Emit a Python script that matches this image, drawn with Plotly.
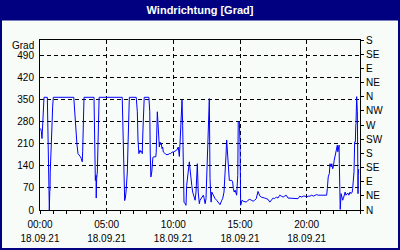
import pandas as pd
import plotly.graph_objects as go

DATE = "2021-09-18"

times = [
    "00:03", "00:06", "00:09", "00:12", "00:15", "00:18", "00:33", "00:36", "00:37", "00:39",
    "00:40", "00:42", "00:44", "00:45", "00:46", "00:48", "00:51", "00:54", "00:57", "01:00",
    "02:32", "02:36", "02:39", "02:43", "02:46", "02:51", "02:55", "02:59", "03:01", "03:06",
    "03:09", "03:10", "03:12", "03:15", "03:18", "04:03", "04:06", "04:09", "04:12", "04:13",
    "04:15", "04:18", "04:21", "04:24", "04:26", "06:10", "06:13", "06:18", "06:21", "06:24",
    "06:27", "06:30", "06:33", "06:36", "06:39", "06:42", "07:13", "07:18", "07:21", "07:22",
    "07:25", "07:30", "07:33", "07:38", "07:40", "07:43", "07:47", "07:49", "08:10", "08:14",
    "08:16", "08:19", "08:23", "08:25", "08:28", "08:33", "08:41", "08:43", "08:45", "08:48",
    "08:51", "08:54", "08:57", "09:00", "09:03", "09:06", "09:09", "09:12", "09:15", "09:21",
    "09:27", "09:36", "09:42", "09:48", "09:54", "10:00", "10:15", "10:22", "10:27", "10:30",
    "10:35", "10:39", "10:42", "10:45", "10:48", "10:53", "10:57", "11:00", "11:07", "11:12",
    "11:15", "11:18", "11:23", "11:27", "11:33", "11:38", "11:42", "11:45", "11:48", "11:52",
    "11:57", "12:00", "12:08", "12:15", "12:19", "12:23", "12:27", "12:30", "12:35", "12:39",
    "12:42", "12:45", "12:50", "12:53", "12:57", "13:03", "13:08", "13:15", "13:22", "13:30",
    "13:38", "13:42", "13:48", "13:53", "13:57", "14:00", "14:03", "14:07", "14:12", "14:23",
    "14:27", "14:30", "14:34", "14:38", "14:45", "14:50", "14:52", "14:57", "15:00", "15:03",
    "15:06", "15:09", "15:14", "15:21", "15:28", "15:36", "15:44", "15:51", "15:59", "16:06",
    "16:13", "16:21", "16:29", "16:36", "16:44", "16:51", "16:58", "17:06", "17:14", "17:21",
    "17:29", "17:36", "17:43", "17:51", "17:59", "18:06", "18:14", "18:21", "18:28", "18:36",
    "18:44", "18:51", "18:59", "19:06", "19:13", "19:21", "19:29", "19:38", "19:45", "19:53",
    "20:00", "20:07", "20:15", "20:23", "20:30", "20:38", "20:45", "20:52", "21:00", "21:08",
    "21:15", "21:23", "21:30", "21:33", "21:37", "21:42", "21:45", "21:50", "21:53", "21:57",
    "22:00", "22:04", "22:08", "22:12", "22:15", "22:18", "22:20", "22:22", "22:26", "22:27",
    "22:29", "22:30", "22:31", "22:35", "22:38", "22:42", "22:45", "22:48", "22:53", "22:57",
    "23:00", "23:05", "23:10", "23:15", "23:20", "23:23", "23:25", "23:27", "23:30", "23:33",
    "23:36", "23:39", "23:41", "23:42", "23:45", "23:48", "23:50", "23:51", "23:52", "23:54",
]

direction = [
    259, 250, 227, 270, 322, 358, 358, 270, 180, 89,
    57, 0, 60, 62, 120, 179, 185, 270, 330, 358,
    358, 312, 275, 237, 211, 179, 176, 174, 170, 163,
    157, 153, 185, 270, 358, 358, 216, 94, 110, 38,
    100, 121, 216, 312, 358, 358, 275, 110, 30, 38,
    57, 78, 121, 206, 275, 358, 358, 312, 222, 184,
    179, 190, 184, 186, 179, 248, 312, 358, 358, 312,
    184, 105, 121, 152, 167, 169, 169, 184, 269, 312,
    275, 222, 200, 216, 208, 211, 195, 200, 184, 181,
    176, 176, 179, 179, 184, 184, 190, 200, 170, 211,
    296, 349, 269, 110, 25, 20, 15, 78, 121, 153,
    131, 100, 78, 57, 41, 31, 57, 100, 147, 57,
    20, 31, 41, 47, 36, 20, 36, 100, 275, 354,
    354, 100, 25, 57, 52, 41, 36, 31, 25, 17,
    31, 36, 57, 110, 174, 222, 184, 131, 94, 94,
    89, 68, 57, 63, 47, 110, 280, 280, 216, 15,
    27, 31, 28, 26, 25, 31, 34, 31, 28, 31,
    36, 59, 45, 41, 38, 38, 36, 34, 25, 31,
    38, 36, 41, 38, 47, 44, 41, 44, 47, 38,
    38, 38, 38, 38, 38, 36, 44, 41, 44, 44,
    41, 44, 44, 47, 44, 47, 49, 47, 47, 47,
    47, 47, 47, 68, 105, 116, 147, 137, 147, 131,
    137, 158, 174, 190, 190, 206, 185, 200, 206, 147,
    57, 25, 2, 52, 38, 31, 36, 47, 57, 47,
    49, 54, 47, 57, 52, 57, 57, 68, 110, 121,
    216, 216, 269, 275, 360, 312, 150, 52, 110, 130,
]

left_ticks = [0, 70, 140, 210, 280, 350, 420, 490]
right_ticks = [0, 45, 90, 135, 180, 225, 270, 315, 360, 405, 450, 495, 540]
right_labels = ["N", "NE", "E", "SE", "S", "SW", "W", "NW", "N", "NE", "E", "SE", "S"]

NAVY = "#000080"
BG = "#F8FCF8"
FONT = "Liberation Sans, Arial, sans-serif"

x = pd.to_datetime([f"{DATE} {t}" for t in times])
x_range = [f"{DATE} 00:00", "2021-09-19 00:00"]

fig = go.Figure()
fig.add_trace(go.Scatter(
    x=x, y=direction, mode="lines",
    line=dict(color="#0000FF", width=1),
    showlegend=False, hoverinfo="skip",
))
# empty helper traces so the date row and compass axis are drawn
fig.add_trace(go.Scatter(x=x_range, y=[None, None], xaxis="x2", yaxis="y",
                         mode="lines", showlegend=False, hoverinfo="skip"))
fig.add_trace(go.Scatter(x=x_range, y=[None, None], xaxis="x", yaxis="y2",
                         mode="lines", showlegend=False, hoverinfo="skip"))

fig.update_layout(
    width=400, height=250,
    margin=dict(l=40, r=40, t=40, b=40, pad=0, autoexpand=False),
    paper_bgcolor=BG, plot_bgcolor=BG,
    font=dict(family=FONT, size=10, color="black"),
    title=dict(text="<b>Windrichtung [Grad]</b>", x=0.5, xanchor="center",
               y=1 - 10 / 250, yanchor="middle", yref="container",
               font=dict(family=FONT, size=11, color="white")),
    xaxis=dict(
        type="date", automargin=False, range=x_range,
        tick0=f"{DATE} 00:00", dtick=5 * 3600 * 1000,
        tickformat="%H:%M",
        showgrid=True, gridcolor="black", gridwidth=1, griddash="4px,3px",
        showline=True, linecolor="black", linewidth=1, mirror=True,
        ticks="outside", ticklen=3, tickcolor="black", tickwidth=1,
        minor=dict(dtick=3600 * 1000, ticks="outside", ticklen=3,
                   tickcolor="black", showgrid=False),
        zeroline=False, ticklabelstandoff=2,
        tickfont=dict(size=10, color="black"),
    ),
    xaxis2=dict(
        type="date", automargin=False, range=x_range,
        overlaying="x", side="bottom", anchor="y",
        tick0=f"{DATE} 00:00", dtick=5 * 3600 * 1000,
        tickformat="%d.%m.%y",
        showgrid=False, showline=False, ticks="", zeroline=False,
        ticklabelstandoff=21,
        tickfont=dict(size=10, color="black"),
    ),
    yaxis=dict(
        range=[0, 540], tickvals=left_ticks, automargin=False,
        showgrid=True, gridcolor="black", gridwidth=1, griddash="4px,3px",
        showline=True, linecolor="black", linewidth=1, mirror=True,
        ticks="", zeroline=False, ticklabelstandoff=3,
        tickfont=dict(size=10, color="black"),
    ),
    yaxis2=dict(
        overlaying="y", side="right", range=[0, 540], automargin=False,
        tickvals=right_ticks, ticktext=right_labels,
        showgrid=False, zeroline=False, showline=False,
        ticks="outside", ticklen=3, tickcolor="black",
        tickfont=dict(size=10, color="black"),
    ),
)

# navy title band and border
fig.add_shape(type="rect", xref="paper", yref="paper",
              x0=-0.2, x1=1.2, y0=(210 - 20.5) / 170, y1=1.3,
              fillcolor=NAVY, line=dict(width=0), layer="below")
fig.add_shape(type="rect", xref="paper", yref="paper",
              x0=-0.125, x1=1.125, y0=-40 / 170, y1=210 / 170,
              fillcolor="rgba(0,0,0,0)", line=dict(color=NAVY, width=4))

fig.add_annotation(text="Grad", xref="paper", yref="paper",
                   x=-4 / 320, y=(210 - 45) / 170, xanchor="right", yanchor="middle",
                   showarrow=False, font=dict(size=10, color="black"))

fig.write_html("out.html")
